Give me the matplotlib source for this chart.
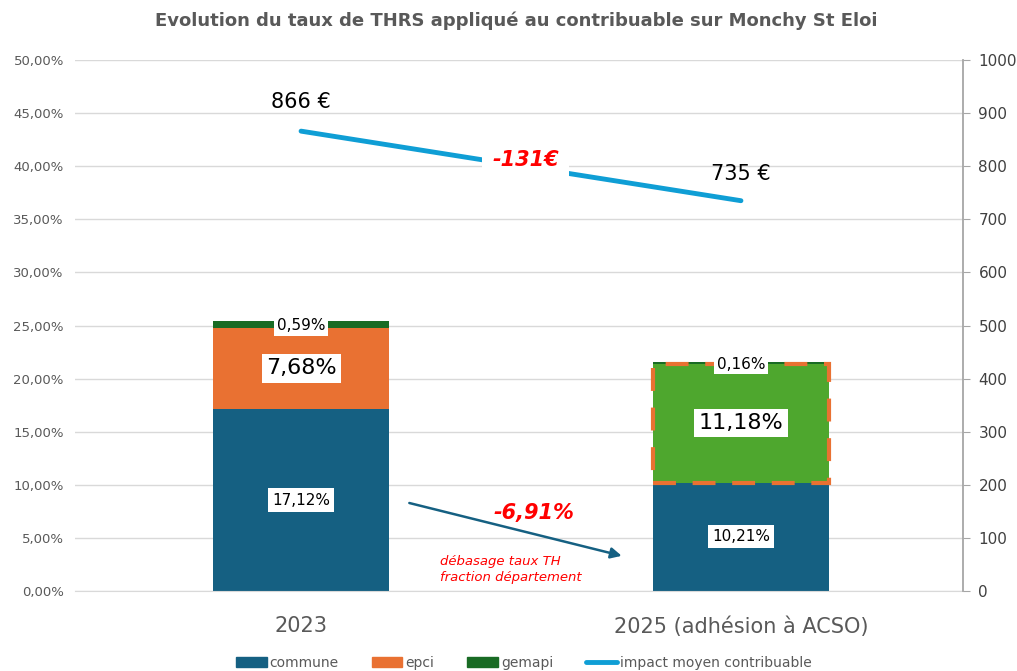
import matplotlib.pyplot as plt
import matplotlib.ticker as mticker
from matplotlib.patches import Patch
from matplotlib.lines import Line2D
import numpy as np

# data
categories = ['2023', '2025 (adhésion à ACSO)']
commune = [17.12, 10.21]
epci = [7.68, 11.18]
gemapi = [0.59, 0.16]
impact = [866, 735]
impact_labels = ['866 €', '735 €']
diff_label = '-131€'
taux_label = '-6,91%'
note_label = 'débasage taux TH\nfraction département'

c_commune = '#156082'
c_epci = '#E97132'
c_gemapi = '#196B24'
c_green = '#4EA72E'
c_line = '#0F9ED5'
grey = '#595959'

fig = plt.figure(figsize=(10.17, 6.71), dpi=100)
ax = fig.add_axes([0.0737, 0.1192, 0.8733, 0.7914])
x = np.arange(len(categories))
w = 0.40

ax.bar(x, commune, w, color=c_commune, zorder=2)
# 2023 epci orange, 2025 epci green with dashed orange edge
ax.bar(x[0], epci[0], w, bottom=commune[0], color=c_epci, zorder=2)
ax.bar(x[1], epci[1], w, bottom=commune[1], color=c_green, edgecolor=c_epci,
       linewidth=3, linestyle=(0, (5.5, 4)), zorder=3)
bot2 = [commune[i] + epci[i] for i in range(2)]
ax.bar(x, gemapi, w, bottom=bot2, color=c_gemapi, zorder=2)

box = dict(facecolor='white', edgecolor='none', pad=3)
for i in range(2):
    ax.text(x[i], commune[i] / 2, f'{commune[i]:.2f}%'.replace('.', ','),
            ha='center', va='center', fontsize=11, bbox=box, zorder=5)
    ax.text(x[i], commune[i] + epci[i] / 2, f'{epci[i]:.2f}%'.replace('.', ','),
            ha='center', va='center', fontsize=16, bbox=box, zorder=5)
    ax.text(x[i], bot2[i] + gemapi[i] / 2 - 0.1, f'{gemapi[i]:.2f}%'.replace('.', ','),
            ha='center', va='center', fontsize=11,
            bbox=dict(facecolor='white', edgecolor='none', pad=2), zorder=5)

ax.set_xlim(-0.514, 1.505)
ax.set_ylim(0, 50)
ax.set_yticks(np.arange(0, 50.1, 5))
ax.yaxis.set_major_formatter(mticker.FuncFormatter(lambda v, p: f'{v:.2f}%'.replace('.', ',')))
ax.set_xticks(x)
ax.set_xticklabels(categories, fontsize=15, color=grey)
ax.tick_params(axis='x', length=0, pad=18)
ax.tick_params(axis='y', length=0, labelsize=9.5, labelcolor=grey, pad=8)
ax.grid(axis='y', color='#D9D9D9', linewidth=1, zorder=0)
for s in ['top', 'right', 'left']:
    ax.spines[s].set_visible(False)
ax.spines['bottom'].set_color('#D9D9D9')

# arrow and annotations on the bar axis
ax.annotate('', xy=(0.735, 3.25), xytext=(0.24, 8.35),
            arrowprops=dict(arrowstyle='-|>', color=c_commune, lw=1.8,
                            mutation_scale=16), zorder=6)
ax.text(0.53, 7.35, taux_label, color='#FF0000', fontsize=15, fontweight='bold',
        fontstyle='italic', ha='center', va='center', zorder=6)
ax.text(0.315, 2.0, note_label, color='#FF0000', fontsize=9.5, fontstyle='italic',
        ha='left', va='center', linespacing=1.3, zorder=6)

# secondary axis
ax2 = ax.twinx()
ax2.set_ylim(0, 1000)
ax2.set_yticks(np.arange(0, 1001, 100))
ax2.plot(x, impact, color=c_line, linewidth=3.5, solid_capstyle='round', zorder=4)
for s in ['top', 'left', 'bottom']:
    ax2.spines[s].set_visible(False)
ax2.spines['right'].set_color('#A6A6A6')
ax2.spines['right'].set_linewidth(1.3)
ax2.tick_params(axis='y', length=5, color='#A6A6A6', labelsize=11, labelcolor='#404040', pad=6)
ax2.text(x[0], 920, impact_labels[0], fontsize=15, ha='center', va='center')
ax2.text(x[1], 786, impact_labels[1], fontsize=15, ha='center', va='center')
ax2.text(0.51, 812, diff_label, color='#FF0000', fontsize=15, fontweight='bold',
         fontstyle='italic', ha='center', va='center',
         bbox=dict(facecolor='white', edgecolor='none', pad=7), zorder=6)

fig.suptitle('Evolution du taux de THRS appliqué au contribuable sur Monchy St Eloi',
             fontsize=13, fontweight='bold', color=grey, x=0.508, y=0.983)

# legend
handles = [Patch(color=c_commune), Patch(color=c_epci), Patch(color=c_gemapi),
           Line2D([0], [0], color=c_line, lw=3.5, solid_capstyle='round')]
fig.legend(handles, ['commune', 'epci', 'gemapi', 'impact moyen contribuable'],
           loc='center', bbox_to_anchor=(0.515, 0.012), ncol=4, frameon=False,
           fontsize=10, labelcolor=grey, handlelength=2.2, handleheight=0.8,
           handletextpad=0.2, columnspacing=2.4)

fig.savefig('out.png', dpi=100)
